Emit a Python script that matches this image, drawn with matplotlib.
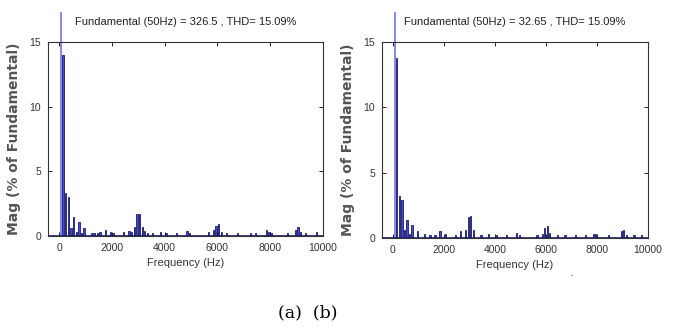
import matplotlib.pyplot as plt

# data: harmonic spectrum, frequency in Hz and magnitude in % of fundamental
freq_a = [150, 250, 350, 450, 550, 650, 750, 850, 950, 1250, 1350, 1450, 1550, 1750,
          1950, 2050, 2450, 2650, 2750, 2850, 2950, 3050, 3150, 3250, 3350, 3550, 3850,
          4050, 4450, 4850, 4950, 5650, 5850, 5950, 6050, 6150, 6350, 6750, 7250, 7450,
          7850, 7950, 8050, 8650, 8950, 9050, 9150, 9350, 9750]
mag_a = [14.0, 3.3, 3.0, 0.6, 1.5, 0.3, 1.1, 0.2, 0.6, 0.2, 0.2, 0.2, 0.3, 0.5,
         0.3, 0.2, 0.3, 0.4, 0.3, 0.7, 1.7, 1.7, 0.7, 0.4, 0.2, 0.2, 0.3,
         0.2, 0.2, 0.4, 0.2, 0.3, 0.5, 0.8, 0.9, 0.3, 0.2, 0.2, 0.2, 0.2,
         0.5, 0.3, 0.2, 0.2, 0.5, 0.7, 0.3, 0.2, 0.3]

freq_b = [150, 250, 350, 450, 550, 650, 750, 950, 1250, 1450, 1650, 1850, 2050, 2450,
          2650, 2850, 2950, 3050, 3150, 3450, 3750, 4050, 4450, 4850, 4950, 5650, 5850,
          5950, 6050, 6150, 6450, 6750, 7150, 7550, 7850, 7950, 8450, 8950, 9050, 9150,
          9450, 9750]
mag_b = [13.8, 3.2, 2.9, 0.6, 1.4, 0.3, 1.0, 0.5, 0.3, 0.2, 0.2, 0.5, 0.3, 0.2,
         0.5, 0.6, 1.6, 1.7, 0.6, 0.2, 0.3, 0.2, 0.2, 0.4, 0.2, 0.2, 0.3,
         0.8, 0.9, 0.4, 0.2, 0.2, 0.2, 0.2, 0.3, 0.3, 0.2, 0.5, 0.6, 0.2,
         0.2, 0.2]

fund_freq = 50
fund_top = 17.3   # visible part of the 100 % fundamental bar above the axes

titles = ["Fundamental (50Hz) = 326.5 , THD= 15.09%",
          "Fundamental (50Hz) = 32.65 , THD= 15.09%"]
xticks = [0, 2000, 4000, 6000, 8000, 10000]
yticks = [0, 5, 10, 15]

fig = plt.figure(figsize=(6.73, 3.29), dpi=100)
ax1 = fig.add_axes([0.0713, 0.2827, 0.4086, 0.5897])
ax2 = fig.add_axes([0.5676, 0.2766, 0.3952, 0.5957])

face = '#4848d8'
edge = '#1a1a6e'
tickfont = {'family': 'Liberation Sans', 'size': 7.5}

for ax, fr, mg, title, xlo in [(ax1, freq_a, mag_a, titles[0], -420),
                               (ax2, freq_b, mag_b, titles[1], -430)]:
    ax.bar(fr, mg, width=50, color=face, edgecolor=edge, linewidth=0.6)
    ax.bar([fund_freq], [fund_top], width=30, color='#6a6ae0', edgecolor='#6a6ae0',
           linewidth=0.4, clip_on=False)
    ax.axhline(0, color=edge, linewidth=1.2)
    ax.set_xlim(xlo, 10000)
    ax.set_ylim(0, 15)
    ax.set_xticks(xticks)
    ax.set_yticks(yticks)
    ax.set_xticklabels([str(t) for t in xticks], fontdict=tickfont, color='#333333')
    ax.set_yticklabels([str(t) for t in yticks], fontdict=tickfont, color='#333333')
    ax.tick_params(direction='in', top=True, right=True, length=3, width=0.6, pad=5)
    for s in ax.spines.values():
        s.set_linewidth(0.8)
        s.set_color('#333333')
    ax.set_title(title, family='Liberation Sans', fontsize=8, pad=12, color='#222222')
    ax.set_xlabel('Frequency (Hz)', family='Liberation Sans', fontsize=8,
                  color='#333333', labelpad=4)
    ax.set_ylabel('Mag (% of Fundamental)', family='DejaVu Sans', weight='bold',
                  fontsize=10, color='#555555', labelpad=6)

# stray dot in the original picture
fig.text(0.85, 0.16, '.', color=edge, fontsize=8, ha='center')

fig.text(0.458, 0.035, '(a)  (b)', family='DejaVu Serif', fontsize=12.5, ha='center')

fig.savefig('out.png', dpi=100)
